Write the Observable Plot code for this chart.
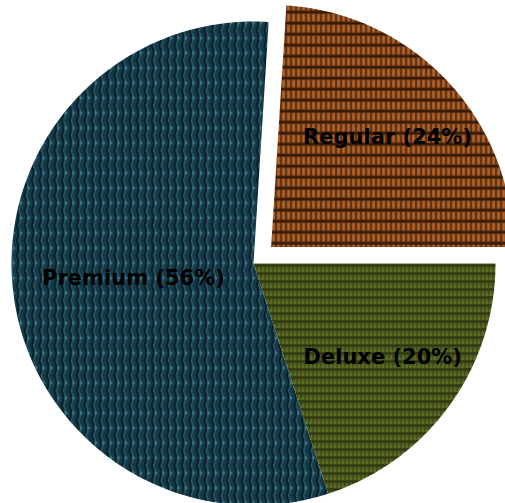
<!DOCTYPE html>
<html>
<head>
<meta charset="utf-8">
<script src="https://cdn.jsdelivr.net/npm/d3@7"></script>
<script src="https://cdn.jsdelivr.net/npm/@observablehq/plot@0.6"></script>
<style>
  html, body { margin: 0; padding: 0; background: #fff; }
</style>
</head>
<body>
<div id="chart"></div>
<script>
// Data
const categories = ["Regular", "Premium", "Deluxe"];
const shares = [24, 56, 20];
const explodedCategory = "Regular";

// Chart geometry constants (style, not data)
const W = 505, H = 503;
const R = 242;          // pie radius in data units (1 unit = 1px)
const cx = 253, cy = 263; // center in pixels
const explodeFrac = 0.1;

const patternIds = { Regular: "pat-regular", Premium: "pat-premium", Deluxe: "pat-deluxe" };

// Angles: counter-clockwise from 3 o'clock (math convention, y up)
const total = d3.sum(shares);
let acc = 0;
const slices = categories.map((name, i) => {
  const a0 = acc / total * 2 * Math.PI;
  acc += shares[i];
  const a1 = acc / total * 2 * Math.PI;
  const mid = (a0 + a1) / 2;
  const off = name === explodedCategory ? explodeFrac * R : 0;
  const ox = off * Math.cos(mid), oy = off * Math.sin(mid);
  const labelFrac = (a1 - a0) > Math.PI ? 0.5 : 0.66;
  return {
    name, value: shares[i], a0, a1, mid, ox, oy,
    label: `${name} (${shares[i]}%)`,
    lx: ox + labelFrac * R * Math.cos(mid),
    ly: oy + labelFrac * R * Math.sin(mid)
  };
});

// Polygon points for each slice
const polys = slices.map(s => {
  const pts = [{name: s.name, x: s.ox, y: s.oy}];
  const n = 160;
  for (let k = 0; k <= n; k++) {
    const a = s.a0 + (s.a1 - s.a0) * k / n;
    pts.push({name: s.name, x: s.ox + R * Math.cos(a), y: s.oy + R * Math.sin(a)});
  }
  pts.push({name: s.name, x: s.ox, y: s.oy});
  return pts;
});

const plot = Plot.plot({
  width: W,
  height: H,
  margin: 0,
  x: {axis: null, domain: [-cx, W - cx], range: [0, W]},
  y: {axis: null, domain: [-(H - cy), cy], range: [H, 0]},
  style: {background: "#fff"},
  marks: [
    ...slices.map((s, i) => Plot.line(polys[i], {
      x: "x", y: "y",
      fill: `url(#${patternIds[s.name]})`,
      stroke: "none"
    })),
    Plot.text(slices, {
      x: "lx", y: "ly", text: "label",
      fontSize: 21, fontWeight: "bold",
      fontFamily: "DejaVu Sans",
      fill: "#000"
    })
  ]
});

const defs = `
<pattern id="pat-regular" patternUnits="userSpaceOnUse" width="5" height="11" x="0" y="0">
  <rect width="5" height="11" fill="#5e2f10"/>
  <rect x="1" y="2" width="4" height="8" fill="#8c4a1e"/>
  <rect x="2" y="3" width="2.2" height="6.5" fill="#b0642a"/>
  <rect x="0" y="0" width="5" height="1.6" fill="#2a1304"/>
  <rect x="0" y="0" width="1" height="11" fill="#3a1b07"/>
</pattern>
<pattern id="pat-deluxe" patternUnits="userSpaceOnUse" width="4" height="8" x="0" y="0">
  <rect width="4" height="8" fill="#3c4718"/>
  <path d="M0.6,7.4 L3,1.4 L3.6,7.4 Z" fill="#6f802d"/>
  <path d="M2,7.4 L3,3.5 L3.6,7.4 Z" fill="#566621"/>
  <rect x="0" y="0" width="4" height="1.3" fill="#232b0b"/>
</pattern>
<pattern id="pat-premium" patternUnits="userSpaceOnUse" width="7.5" height="15" x="0" y="0">
  <rect width="7.5" height="15" fill="#163847"/>
  <path d="M1,0 Q5.5,7.5 1,15" stroke="#071a22" stroke-width="1.6" fill="none"/>
  <path d="M3.2,0 Q7.2,7.5 3.2,15" stroke="#2a5f6f" stroke-width="1.2" fill="none"/>
  <path d="M4.3,5 L7.5,7.5 L4.3,10 Z" fill="#3a7f8f"/>
</pattern>`;
const svg = plot.tagName.toLowerCase() === "svg" ? plot : plot.querySelector("svg");
d3.select(svg).insert("defs", ":first-child").html(defs);

document.getElementById("chart").appendChild(plot);
</script>
</body>
</html>
